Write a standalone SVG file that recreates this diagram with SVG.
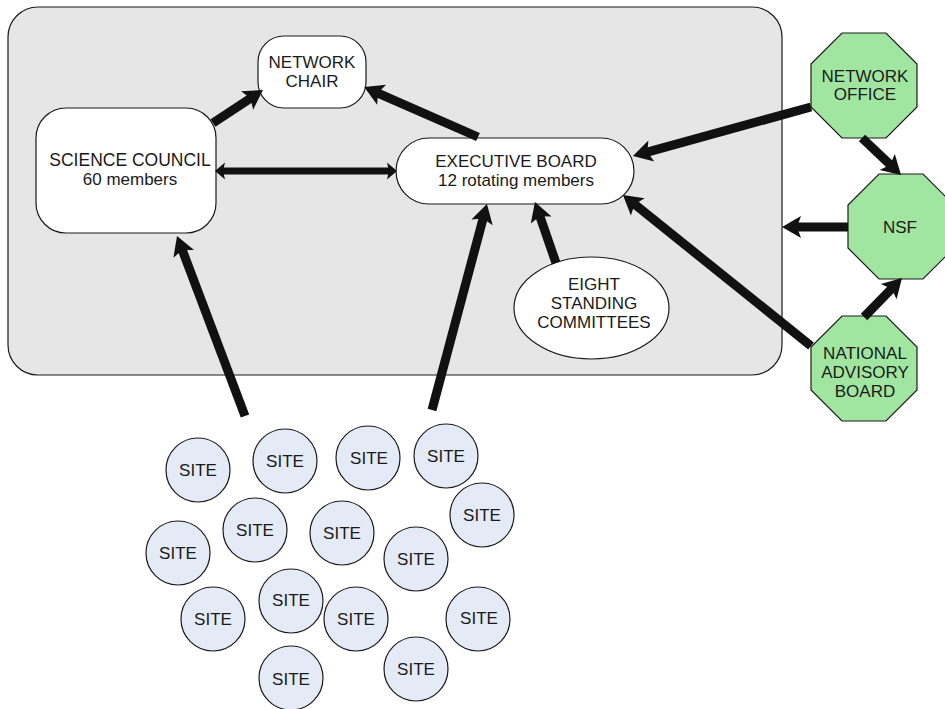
<svg xmlns="http://www.w3.org/2000/svg" width="945" height="709" viewBox="0 0 945 709">
<style>
text{font-family:"Liberation Sans",Arial,sans-serif;font-size:17px;fill:#1a1a1a;text-anchor:middle}
.box{fill:#fff;stroke:#1a1a1a;stroke-width:1.2}
.oct{fill:#a1e6a0;stroke:#1a1a1a;stroke-width:1.2}
.site{fill:#e4ebf7;stroke:#1a1a1a;stroke-width:1.2}
.c{stroke:#111;stroke-width:9;fill:none;marker-end:url(#ah)}
.d{stroke:#111;stroke-width:7;fill:none;marker-end:url(#ahs);marker-start:url(#ahs)}
</style>
<defs>
<marker id="ah" markerUnits="userSpaceOnUse" viewBox="-8 -12 24 24" markerWidth="24" markerHeight="24" refX="0" refY="0" orient="auto">
<path d="M-6,-11 L13,0 L-6,11 L-2,0 z" fill="#111"/>
</marker>
<marker id="ahs" markerUnits="userSpaceOnUse" viewBox="-5 -10 15 20" markerWidth="15" markerHeight="20" refX="0" refY="0" orient="auto-start-reverse">
<path d="M-3,-8.5 L7,0 L-3,8.5 L-1,0 z" fill="#111"/>
</marker>
</defs>
<rect id="network-container" x="8" y="7" width="774" height="368" rx="30" ry="30" fill="#e6e6e6" stroke="#1a1a1a" stroke-width="1.2"/>
<g id="network-chair"><rect class="box" x="258" y="36" width="108" height="72" rx="26"/><text x="312" y="68">NETWORK</text><text x="312" y="87">CHAIR</text></g>
<g id="science-council"><rect class="box" x="36" y="108" width="180" height="125" rx="30"/><text x="130" y="166" style="font-size:17.5px">SCIENCE COUNCIL</text><text x="130" y="185">60 members</text></g>
<g id="executive-board"><rect class="box" x="396" y="138" width="238" height="66" rx="33"/><text x="516" y="167">EXECUTIVE BOARD</text><text x="516" y="186">12 rotating members</text></g>
<g id="standing-committees"><ellipse class="box" cx="591.5" cy="308" rx="77.5" ry="51"/><text x="594" y="290">EIGHT</text><text x="594" y="309">STANDING</text><text x="594" y="328">COMMITTEES</text></g>
<g id="network-office"><polygon class="oct" points="842,33 886,33 917,64 917,107 886,138 842,138 811,107 811,64"/><text x="865" y="82">NETWORK</text><text x="865" y="100">OFFICE</text></g>
<g id="nsf"><polygon class="oct" points="879,174 923,174 954,205 954,248 923,279 879,279 848,248 848,205"/><text x="900" y="233">NSF</text></g>
<g id="national-advisory-board"><polygon class="oct" points="842,316 886,316 917,347 917,390 886,421 842,421 811,390 811,347"/><text x="865" y="359">NATIONAL</text><text x="865" y="378">ADVISORY</text><text x="865" y="397">BOARD</text></g>
<g id="sites">
<g id="site1"><circle class="site" cx="198" cy="470" r="32"/><text x="198" y="476">SITE</text></g>
<g id="site2"><circle class="site" cx="285" cy="461" r="32"/><text x="285" y="467">SITE</text></g>
<g id="site3"><circle class="site" cx="368" cy="458" r="32"/><text x="369" y="464">SITE</text></g>
<g id="site4"><circle class="site" cx="446" cy="456" r="32"/><text x="446" y="462">SITE</text></g>
<g id="site5"><circle class="site" cx="482" cy="515" r="32"/><text x="482" y="521">SITE</text></g>
<g id="site6"><circle class="site" cx="255" cy="530" r="32"/><text x="255" y="536">SITE</text></g>
<g id="site7"><circle class="site" cx="342" cy="533" r="32"/><text x="342" y="539">SITE</text></g>
<g id="site8"><circle class="site" cx="416" cy="559" r="32"/><text x="416" y="565">SITE</text></g>
<g id="site9"><circle class="site" cx="178" cy="553" r="32"/><text x="178" y="559">SITE</text></g>
<g id="site10"><circle class="site" cx="213" cy="619" r="32"/><text x="213" y="625">SITE</text></g>
<g id="site11"><circle class="site" cx="291" cy="601" r="32"/><text x="291" y="606">SITE</text></g>
<g id="site12"><circle class="site" cx="356" cy="619" r="32"/><text x="356" y="625">SITE</text></g>
<g id="site13"><circle class="site" cx="478" cy="619" r="32"/><text x="479" y="624">SITE</text></g>
<g id="site14"><circle class="site" cx="291" cy="678" r="32"/><text x="291" y="685">SITE</text></g>
<g id="site15"><circle class="site" cx="416" cy="669" r="32"/><text x="416" y="675">SITE</text></g>
</g>
<g id="connectors">
<line class="c" x1="213" y1="123" x2="252.1" y2="97.2"/>
<line class="c" x1="478" y1="137" x2="376.1" y2="92.3"/>
<line class="d" x1="222" y1="171" x2="390" y2="171"/>
<line class="c" x1="811" y1="107" x2="645.5" y2="152.6"/>
<line class="c" x1="811" y1="346" x2="633.1" y2="203.1"/>
<line class="c" x1="556" y1="263" x2="539.2" y2="214.3"/>
<line class="c" x1="432" y1="410" x2="483.6" y2="216.6"/>
<line class="c" x1="245" y1="416" x2="181.6" y2="248.2"/>
<line class="c" x1="862" y1="138" x2="891.6" y2="166.1"/>
<line class="c" x1="848" y1="227" x2="795" y2="227"/>
<line class="c" x1="864" y1="317" x2="892.9" y2="287.3"/>
</g>
</svg>
